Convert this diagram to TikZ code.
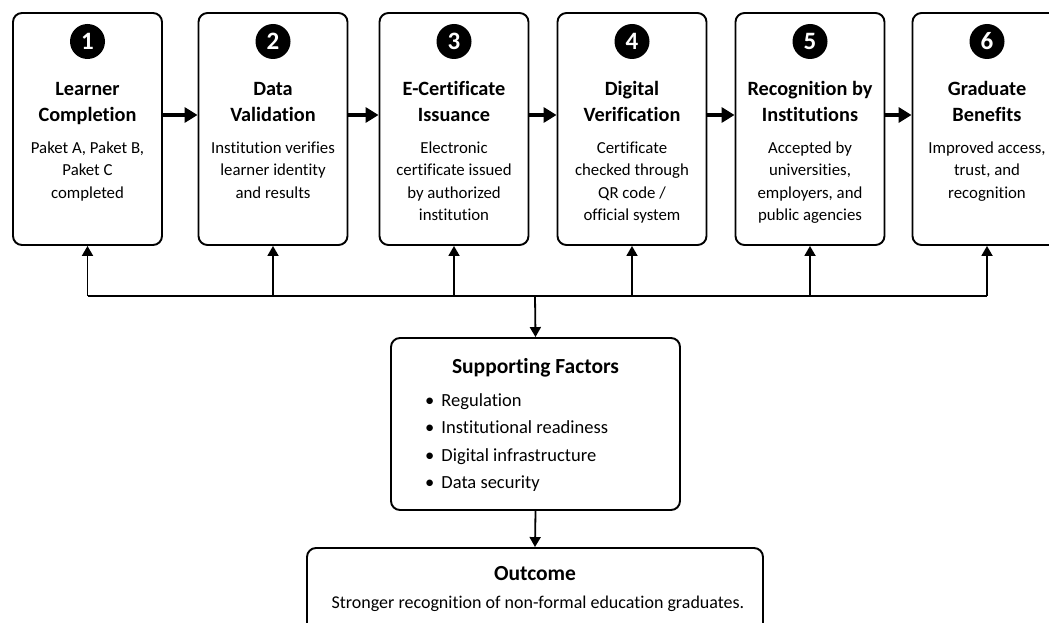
\documentclass[tikz,border=0pt]{standalone}
\usepackage{fontspec}
\setmainfont{Carlito}[Ligatures=NoCommon]
\usetikzlibrary{arrows.meta}
\begin{document}
\begin{tikzpicture}[x=1pt,y=-1pt,
  stepbox/.style={draw, line width=1.9pt, rounded corners=9pt, minimum width=149pt, minimum height=232pt, inner sep=0},
  numdot/.style={circle, fill=black, minimum size=35pt, inner sep=0, text=white, font=\bfseries\fontsize{25}{25}\selectfont},
  ttl/.style={anchor=north, inner sep=0, align=center, font=\bfseries\fontsize{20.3}{26}\selectfont},
  dsc/.style={anchor=north, inner sep=0, align=center, font=\fontsize{16.8}{22.5}\selectfont},
  flow/.style={-{Triangle[length=13pt,width=15pt]}, line width=4pt},
  link/.style={-{Triangle[length=10pt,width=11pt]}, line width=1.8pt},
  bigbox/.style={draw, line width=1.9pt, rounded corners=9pt, inner sep=0},
]
\useasboundingbox (0,0) rectangle (1049,623);
\foreach \i/\x/\t/\d in {
  1/87.5/{Learner\\Completion}/{Paket A, Paket B,\\Paket C\\completed},
  2/273/{Data\\Validation}/{Institution verifies\\learner identity\\and results},
  3/454/{E-Certificate\\Issuance}/{Electronic\\certificate issued\\by authorized\\institution},
  4/632/{Digital\\Verification}/{Certificate\\checked through\\QR code /\\official system},
  5/810/{Recognition by\\Institutions}/{Accepted by\\universities,\\employers, and\\public agencies},
  6/987/{Graduate\\Benefits}/{Improved access,\\trust, and\\recognition}}{
  \node[stepbox] (box\i) at (\x,129) {};
  \node[numdot] (num\i) at (\x,41.5) {\i};
  \node[ttl] (ttl\i) at (\x,95-18.2) {\strut\t};
  \node[dsc] (dsc\i) at (\x,153-15.75) {\strut\d};
}
\foreach \a/\b in {1/2,2/3,3/4,4/5,5/6}{
  \draw[flow] ([yshift=14pt]box\a.east) -- ([yshift=14pt]box\b.west);
}
\coordinate (bus) at (535,296);
\draw[line width=1.8pt] (box1.south |- bus) -- (box6.south |- bus);
\foreach \i in {1,...,6}{
  \draw[link] (box\i.south |- bus) -- (box\i.south);
}
\node[bigbox, minimum width=289pt, minimum height=172pt] (sup) at (535.5,424) {};
\node[anchor=north, inner sep=0, font=\bfseries\fontsize{21.5}{28}\selectfont] (suptitle) at (535.5,373-19.6) {\strut Supporting Factors};
\node[anchor=north west, inner sep=0, align=left, font=\fontsize{18.5}{27.5}\selectfont] (suplist) at (425,406-19.25)
  {\strut\textbullet\hspace{0.38em}Regulation\\
   \textbullet\hspace{0.38em}Institutional readiness\\
   \textbullet\hspace{0.38em}Digital infrastructure\\
   \textbullet\hspace{0.38em}Data security};
\draw[link] (bus) -- (sup.north);
\node[bigbox, minimum width=456pt, minimum height=100pt] (out) at (535,598) {};
\node[anchor=north, inner sep=0, font=\bfseries\fontsize{21.5}{28}\selectfont] (outtitle) at (535,580-19.6) {\strut Outcome};
\node[anchor=north, inner sep=0, font=\fontsize{18}{24}\selectfont] (outtext) at (538,608-16.8) {\strut Stronger recognition of non-formal education graduates.};
\draw[link] (sup.south) -- (out.north);
\end{tikzpicture}
\end{document}
